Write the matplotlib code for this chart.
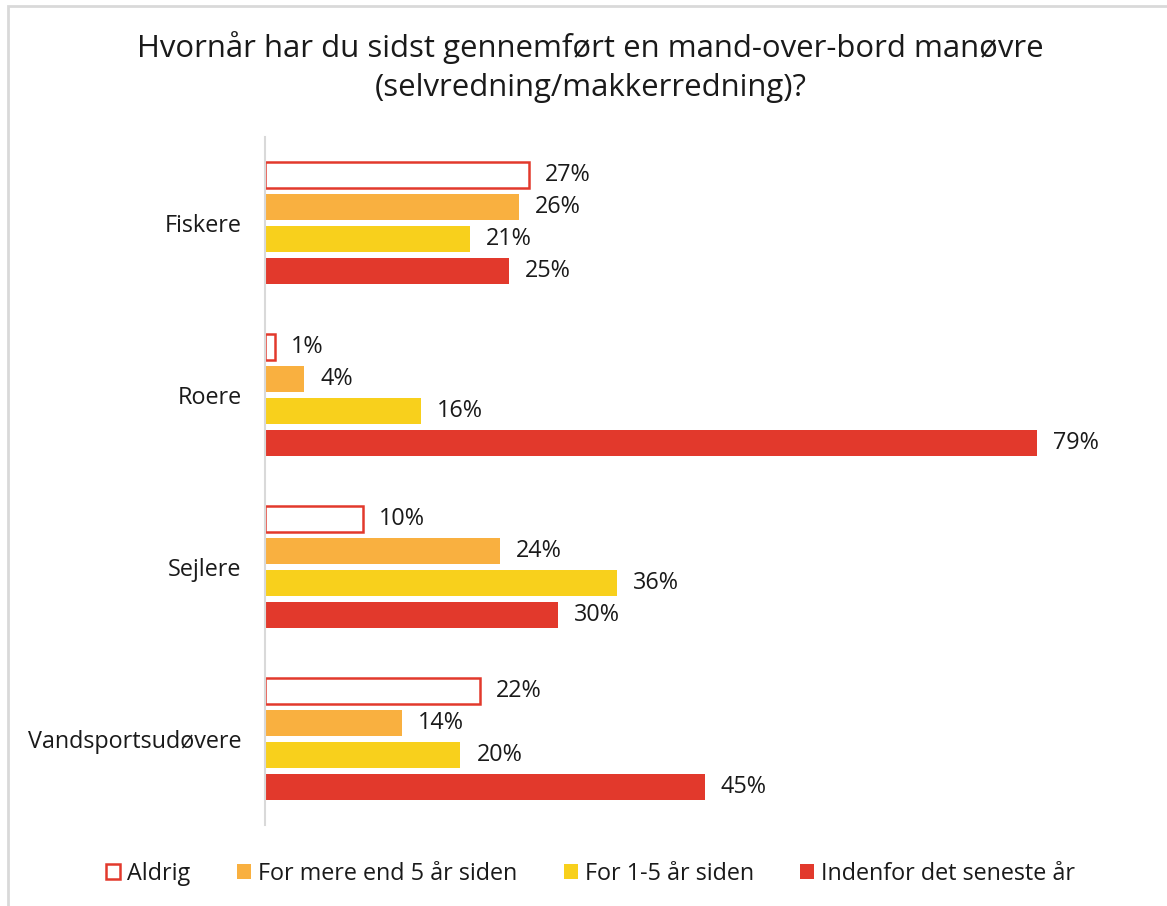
import matplotlib.pyplot as plt
from matplotlib.patches import Rectangle
import numpy as np

plt.rcParams['font.family'] = ['Open Sans', 'DejaVu Sans']

groups = ['Fiskere', 'Roere', 'Sejlere', 'Vandsportsudøvere']
series = ['Aldrig', 'For mere end 5 år siden', 'For 1-5 år siden', 'Indenfor det seneste år']
aldrig = [27, 1, 10, 22]
mere_end_5 = [26, 4, 24, 14]
aar_1_5 = [21, 16, 36, 20]
seneste_aar = [25, 79, 30, 45]

values = [aldrig, mere_end_5, aar_1_5, seneste_aar]
face = ['white', '#F9B040', '#F8D01C', '#E2392C']
edge = ['#E2392C', '#F9B040', '#F8D01C', '#E2392C']

fig = plt.figure(figsize=(11.67, 9.06), dpi=100)
fig.set_facecolor('white')

# light gray frame around chart area (top/left visible)
fig.patches.append(Rectangle((8 / 1167, -0.05), 1.1, (906 - 6) / 906 + 0.05,
                             transform=fig.transFigure, fill=False,
                             edgecolor='#D9D9D9', lw=2))

ax = fig.add_axes([265 / 1167, 1 - 825 / 906, 865 / 1167, 688 / 906])

pitch = 0.186
height = 0.151
y = np.arange(len(groups))
for k, vals in enumerate(values):
    pos = y + (k - 1.5) * pitch
    lw = 1.8 if k == 0 else 0
    ax.barh(pos, vals, height=height, color=face[k], edgecolor=edge[k],
            linewidth=lw, label=series[k])
    for p, v in zip(pos, vals):
        ax.annotate(f'{v}%', (v, p), xytext=(11.5, 0), textcoords='offset points',
                    va='center', ha='left', fontsize=16.8, color='#1a1a1a')

ax.set_xlim(0, 88.5)
ax.set_ylim(3.5, -0.5)
ax.set_yticks(y)
ax.set_yticklabels(groups, fontsize=16.8, color='#1a1a1a')
ax.set_xticks([])
ax.tick_params(axis='y', length=0, pad=17)
for s in ['top', 'right', 'bottom']:
    ax.spines[s].set_visible(False)
ax.spines['left'].set_color('#D9D9D9')
ax.spines['left'].set_linewidth(1.5)

fig.text(0.506, 1 - 48 / 906, 'Hvornår har du sidst gennemført en mand-over-bord manøvre',
         ha='center', va='center', fontsize=22.4, color='#1a1a1a')
fig.text(0.506, 1 - 88 / 906, '(selvredning/makkerredning)?',
         ha='center', va='center', fontsize=22.4, color='#1a1a1a')

fig.legend(loc='center', bbox_to_anchor=(0.506, 1 - 874 / 906), ncol=4, frameon=False,
           fontsize=16.8, handlelength=0.6, handleheight=0.6, handletextpad=0.3,
           columnspacing=2.0, labelcolor='#1a1a1a')

fig.savefig('out.png', dpi=100)
